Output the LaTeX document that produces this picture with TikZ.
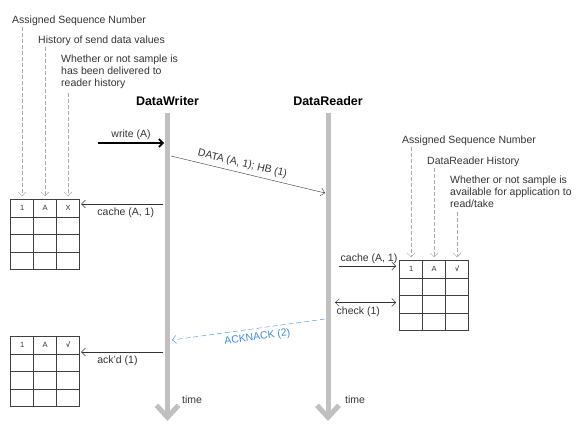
\documentclass[tikz,border=0pt]{standalone}
\usepackage{fontspec}
\setmainfont{Liberation Sans}
\usepackage{xcolor}
\definecolor{seqDark}{HTML}{333333}
\definecolor{seqBar}{HTML}{C0C0C0}
\definecolor{seqNote}{HTML}{A8A8A8}
\definecolor{seqBlue}{HTML}{3C8DD8}
\definecolor{seqGrid}{HTML}{404040}
\usetikzlibrary{arrows.meta,positioning,matrix,calc}
\tikzset{
    note/.style={
        font=\fontsize{10.5}{12}\selectfont,
        text=seqDark,
        align=left,
        anchor=west,
        inner sep=1pt
    },
    notelink/.style={
        draw=seqNote,
        dash pattern=on 4pt off 2pt,
        -{Straight Barb[length=4pt,width=8pt]},
        shorten >=3pt
    },
    actor/.style={
        font=\fontsize{12.5}{14}\selectfont\bfseries,
        text=black
    },
    lifeline/.style={
        draw=seqBar,
        line width=5pt,
        -{Straight Barb[length=12pt,width=22pt]}
    },
    msg/.style={
        draw=seqDark,
        -{Straight Barb[length=4pt,width=8pt]}
    },
    bigmsg/.style={
        draw=black,
        line width=1.6pt,
        -{Straight Barb[length=4pt,width=8pt]}
    },
    ackmsg/.style={
        draw=seqBlue,
        dash pattern=on 5pt off 3pt,
        -{Straight Barb[length=4pt,width=8pt]}
    },
    msglabel/.style={
        font=\fontsize{10.5}{12}\selectfont,
        text=seqDark,
        inner sep=1.5pt
    },
    histtab/.style={
        matrix of nodes,
        nodes in empty cells,
        anchor=north west,
        inner sep=0pt,
        column sep=-0.8pt,
        row sep=-0.8pt,
        nodes={
            draw=seqGrid,
            line width=0.8pt,
            minimum width=23pt,
            minimum height=17.5pt,
            text height=6pt,
            text depth=1pt,
            inner sep=0pt,
            font=\fontsize{7.5}{8}\selectfont,
            text=seqDark
        }
    }
}

\begin{document}
\begin{tikzpicture}[x=1pt, y=-1pt]
    \useasboundingbox (0,0) rectangle (585,443);

    % Actors and lifelines
    \node[actor] (dw) at (167.5,101) {DataWriter};
    \node[actor] (dr) at (328,101) {DataReader};
    \coordinate (dwend) at (167.5,421);
    \coordinate (drend) at (328,421);
    \draw[lifeline, shorten <=3.5pt] (dw.south) -- (dwend);
    \draw[lifeline, shorten <=3.5pt] (dr.south) -- (drend);
    \node[note] (dwtime) at (181,400) {time};
    \node[note] (drtime) at (344,400) {time};

    % Writer history tables
    \matrix (wtab) [histtab] at (10,199) {
        1 & A & X \\
          &   &   \\
          &   &   \\
          &   &   \\
    };
    \matrix (atab) [histtab] at (10,336) {
        1 & A & \textbf{√} \\
          &   &   \\
          &   &   \\
          &   &   \\
    };

    % Reader history table
    \matrix (rtab) [histtab] at (399,260) {
        1 & A & \textbf{√} \\
          &   &   \\
          &   &   \\
          &   &   \\
    };

    % Writer side notes
    \node[note] (wseq) at (11,20.5) {Assigned Sequence Number};
    \node[note] (whist) at (37,40.5) {History of send data values};
    \node[note] (wflag) at (60,72) {Whether or not sample is\\has been delivered to\\reader history};
    \draw[notelink] (wseq.south -| wtab-1-1) -- (wtab-1-1.north);
    \draw[notelink] (whist.south -| wtab-1-2) -- (wtab-1-2.north);
    \draw[notelink] ([yshift=-3pt]wflag.south -| wtab-1-3) -- (wtab-1-3.north);

    % Reader side notes
    \node[note] (rseq) at (401,140.5) {Assigned Sequence Number};
    \node[note] (rhist) at (426,162) {DataReader History};
    \node[note] (rflag) at (449,191.5) {Whether or not sample is\\available for application to\\read/take};
    \draw[notelink] (rseq.south -| rtab-1-1) -- (rtab-1-1.north);
    \draw[notelink] (rhist.south -| rtab-1-2) -- (rtab-1-2.north);
    \draw[notelink] ([yshift=-3pt]rflag.south -| rtab-1-3) -- (rtab-1-3.north);

    % Messages
    \coordinate (app) at (98,143);
    \coordinate (wwrite) at (164,143);
    \coordinate (wdata) at (171,156);
    \coordinate (rdata) at (325,193);
    \coordinate (wcache) at (163,204);
    \coordinate (rcache) at (339,266);
    \coordinate (rcheck) at (335,302.5);
    \coordinate (rack) at (325,319);
    \coordinate (wack) at (172,340);
    \coordinate (wackd) at (163,352);

    \draw[bigmsg] (app) -- node[msglabel, above=1pt] {write (A)} (wwrite);
    \draw[msg] (wdata) -- node[msglabel, above=2.5pt, sloped, pos=0.45] {DATA (A, 1); HB (1)} (rdata);
    \draw[msg, shorten >=1pt] (wcache) -- node[msglabel, below=2pt, pos=0.45] {cache (A, 1)} (wcache -| wtab.east);
    \draw[msg, shorten >=3pt] (rcache) -- node[msglabel, above=1pt] {cache (A, 1)} (rcache -| rtab.west);
    \draw[msg, {Straight Barb[length=4pt,width=8pt]}-{Straight Barb[length=4pt,width=8pt]}, shorten >=3pt]
        (rcheck) -- (rcheck -| rtab.west);
    \node[msglabel, anchor=north west] (checklbl) at ([yshift=-3pt]rcheck) {check (1)};
    \draw[ackmsg] (rack) -- node[msglabel, text=seqBlue, below=2.5pt, sloped, pos=0.45] {ACKNACK (2)} (wack);
    \draw[msg, shorten >=1pt] (wackd) -- node[msglabel, below=2pt, pos=0.55] {ack'd (1)} (wackd -| atab.east);
\end{tikzpicture}
\end{document}
